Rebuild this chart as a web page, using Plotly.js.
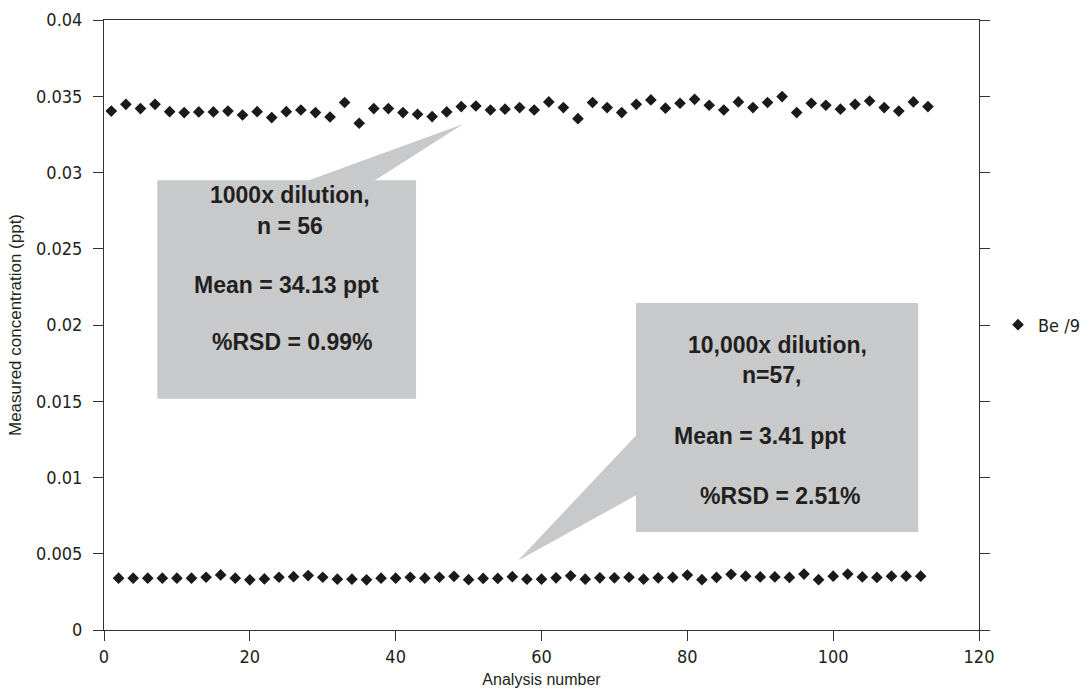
<!DOCTYPE html>
<html>
<head>
<meta charset="utf-8">
<script src="https://cdn.plot.ly/plotly-3.0.1.min.js"></script>
<style>
  html, body { margin: 0; padding: 0; background: #ffffff; }
  #chart { width: 1080px; height: 690px; }
</style>
</head>
<body>
<div id="chart"></div>
<script>
// ---- Data ----
const seriesName = 'Be /9';

// 1000x dilution runs (odd analysis numbers)
const highAnalysis = [1, 3, 5, 7, 9, 11, 13, 15, 17, 19, 21, 23, 25, 27, 29, 31, 33, 35, 37, 39,
  41, 43, 45, 47, 49, 51, 53, 55, 57, 59, 61, 63, 65, 67, 69, 71, 73, 75, 77, 79,
  81, 83, 85, 87, 89, 91, 93, 95, 97, 99, 101, 103, 105, 107, 109, 111, 113];
const highConc = [0.03403, 0.03447, 0.03419, 0.03447, 0.03399, 0.03393, 0.03397, 0.03397, 0.03403, 0.03377,
  0.03399, 0.03360, 0.03399, 0.03410, 0.03393, 0.03364, 0.03459, 0.03323, 0.03419, 0.03419,
  0.03393, 0.03382, 0.03367, 0.03397, 0.03432, 0.03436, 0.03410, 0.03415, 0.03426, 0.03410,
  0.03463, 0.03426, 0.03353, 0.03459, 0.03426, 0.03393, 0.03447, 0.03476, 0.03422, 0.03454,
  0.03480, 0.03441, 0.03410, 0.03463, 0.03426, 0.03459, 0.03498, 0.03393, 0.03454, 0.03441,
  0.03415, 0.03447, 0.03469, 0.03426, 0.03403, 0.03463, 0.03432];

// 10,000x dilution runs (even analysis numbers)
const lowAnalysis = [2, 4, 6, 8, 10, 12, 14, 16, 18, 20, 22, 24, 26, 28, 30, 32, 34, 36, 38, 40,
  42, 44, 46, 48, 50, 52, 54, 56, 58, 60, 62, 64, 66, 68, 70, 72, 74, 76, 78, 80,
  82, 84, 86, 88, 90, 92, 94, 96, 98, 100, 102, 104, 106, 108, 110, 112];
const lowConc = [0.00340, 0.00340, 0.00340, 0.00340, 0.00340, 0.00340, 0.00346, 0.00361, 0.00340, 0.00329,
  0.00335, 0.00346, 0.00350, 0.00357, 0.00346, 0.00333, 0.00333, 0.00329, 0.00340, 0.00340,
  0.00346, 0.00340, 0.00346, 0.00352, 0.00330, 0.00338, 0.00338, 0.00350, 0.00333, 0.00333,
  0.00342, 0.00355, 0.00333, 0.00342, 0.00342, 0.00346, 0.00333, 0.00342, 0.00345, 0.00360,
  0.00330, 0.00345, 0.00365, 0.00353, 0.00348, 0.00348, 0.00345, 0.00367, 0.00330, 0.00353,
  0.00367, 0.00348, 0.00345, 0.00353, 0.00353, 0.00353];

// Axis ticks
const xTickVals = [0, 20, 40, 60, 80, 100, 120];
const xTickText = ['0', '20', '40', '60', '80', '100', '120'];
const yTickVals = [0, 0.005, 0.01, 0.015, 0.02, 0.025, 0.03, 0.035, 0.04];
const yTickText = ['0', '0.005', '0.01', '0.015', '0.02', '0.025', '0.03', '0.035', '0.04'];

// Callout texts
const callout1Lines = ['1000x dilution,', 'n = 56', 'Mean = 34.13 ppt', '%RSD = 0.99%'];
const callout2Lines = ['10,000x dilution,', 'n=57,', 'Mean = 3.41 ppt', '%RSD = 2.51%'];

// ---- Build the single series (merged, ordered by analysis number) ----
const pts = [];
highAnalysis.forEach((a, i) => pts.push([a, highConc[i]]));
lowAnalysis.forEach((a, i) => pts.push([a, lowConc[i]]));
pts.sort((p, q) => p[0] - q[0]);

const ink = '#231f20';
const narrow = '"Liberation Sans Narrow", "Arial Narrow", "DejaVu Sans Condensed", sans-serif';
const sans = '"Liberation Sans", Arial, Helvetica, sans-serif';

const trace = {
  type: 'scatter',
  mode: 'markers',
  name: seriesName,
  x: pts.map(p => p[0]),
  y: pts.map(p => p[1]),
  marker: { symbol: 'diamond', size: 9, color: '#1a1a1a', line: { width: 0 } },
  hoverinfo: 'x+y'
};

// Callout geometry (layout styling, in axis units)
const box1 = 'M 7.31,0.0295 L 28.1,0.0295 L 49.27,0.03318 L 37.16,0.0295 L 42.8,0.0295 L 42.8,0.01517 L 7.31,0.01517 Z';
const box2 = 'M 72.96,0.02145 L 111.67,0.02145 L 111.67,0.00642 L 72.96,0.00642 L 72.96,0.00883 L 56.8,0.00456 L 72.96,0.01276 Z';
const calloutFill = '#c8c9cb';

const c1x = [25.5, 25.5, 25.06, 25.85];
const c1y = [0.02852, 0.02648, 0.02261, 0.01887];
const c2x = [92.3, 91.6, 90.0, 92.7];
const c2y = [0.01870, 0.01670, 0.01270, 0.00880];

const annotations = [];
callout1Lines.forEach((t, i) => annotations.push({
  xref: 'x', yref: 'y', x: c1x[i], y: c1y[i], text: '<b>' + t + '</b>', showarrow: false,
  xanchor: 'center', yanchor: 'middle', font: { family: sans, size: 23, color: ink }
}));
callout2Lines.forEach((t, i) => annotations.push({
  xref: 'x', yref: 'y', x: c2x[i], y: c2y[i], text: '<b>' + t + '</b>', showarrow: false,
  xanchor: 'center', yanchor: 'middle', font: { family: sans, size: 23, color: ink }
}));

const layout = {
  width: 1080,
  height: 690,
  paper_bgcolor: '#ffffff',
  plot_bgcolor: '#ffffff',
  margin: { l: 104, r: 101, t: 20, b: 60, pad: 0, autoexpand: false },
  showlegend: true,
  legend: {
    x: 1.0217, xanchor: 'left', y: 0.5, yanchor: 'middle',
    font: { family: narrow, size: 18, color: ink },
    bgcolor: 'rgba(0,0,0,0)', borderwidth: 0
  },
  xaxis: {
    range: [0, 120],
    tickmode: 'array', tickvals: xTickVals, ticktext: xTickText,
    ticks: 'outside', ticklen: 10, tickwidth: 1, tickcolor: '#333',
    showline: true, linecolor: '#333', linewidth: 1, mirror: true,
    showgrid: false, zeroline: false,
    tickfont: { family: narrow, size: 18, color: ink },
    title: { text: 'Analysis number', font: { family: sans, size: 16, color: ink }, standoff: 8 }
  },
  yaxis: {
    range: [0, 0.04],
    tickmode: 'array', tickvals: yTickVals, ticktext: yTickText,
    ticks: 'outside', ticklen: 10, tickwidth: 1, tickcolor: '#333',
    ticklabelstandoff: 7,
    showline: true, linecolor: '#333', linewidth: 1, mirror: 'ticks',
    showgrid: false, zeroline: false,
    tickfont: { family: narrow, size: 18, color: ink },
    title: { text: 'Measured concentration (ppt)', font: { family: sans, size: 17, color: ink }, standoff: 10 }
  },
  shapes: [
    { type: 'path', xref: 'x', yref: 'y', path: box1, fillcolor: calloutFill, line: { width: 0 }, layer: 'below' },
    { type: 'path', xref: 'x', yref: 'y', path: box2, fillcolor: calloutFill, line: { width: 0 }, layer: 'below' }
  ],
  annotations: annotations
};

Plotly.newPlot('chart', [trace], layout, { displayModeBar: false, staticPlot: true });
</script>
</body>
</html>
